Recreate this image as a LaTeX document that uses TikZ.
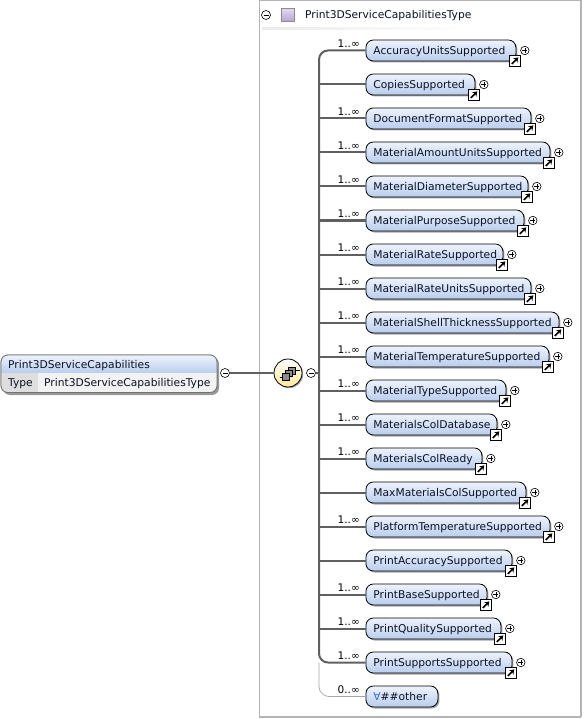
\documentclass[tikz,border=0pt]{standalone}
\usepackage{fontspec}
\setmainfont{DejaVu Sans}
\usetikzlibrary{shadows,arrows.meta,calc}
\definecolor{pilltop}{HTML}{EEF3FC}
\definecolor{pillbot}{HTML}{B9CDEE}
\definecolor{linegray}{HTML}{606060}
\definecolor{framegray}{HTML}{B4B4B4}
\definecolor{txt}{HTML}{0C1224}
\definecolor{lilactop}{HTML}{E2DAF0}
\definecolor{lilacbot}{HTML}{B4A4D8}
\definecolor{anyblue}{HTML}{3A6EC0}
\tikzset{
  x=1pt,y=-1pt,
  pill/.style={draw=black,line width=0.8pt,rounded corners=7.5pt,top color=pilltop,bottom color=pillbot,
    minimum height=21pt,text height=9pt,text depth=1pt,inner ysep=0pt,inner xsep=7.5pt,anchor=west,font=\fontsize{10.7}{12}\selectfont,text=txt,
    drop shadow={shadow xshift=1.5pt,shadow yshift=-1.5pt,fill=black,opacity=.35}},
  toggle/.style={circle,draw=black,fill=white,line width=0.6pt,minimum size=9pt,inner sep=0pt},
  conn/.style={draw=linegray,line width=2pt},
  occ/.style={font=\fontsize{10.5}{12}\selectfont,inner sep=0pt,anchor=east,text=black},
  linkbox/.style={draw=black,fill=white,line width=1pt,minimum size=10.5pt,inner sep=0pt},
}
\newcommand{\plusmark}[1]{\draw[line width=0.5pt] ($(#1)+(-2.5,0)$) -- ($(#1)+(2.5,0)$) ($(#1)+(0,-2.5)$) -- ($(#1)+(0,2.5)$);}
\newcommand{\minusmark}[1]{\draw[line width=0.5pt] ($(#1)+(-2.5,0)$) -- ($(#1)+(2.5,0)$);}
\begin{document}
\begin{tikzpicture}
\useasboundingbox (0,0) rectangle (583,719);
\fill[white] (0,0) rectangle (583,719);
% frame
\draw[framegray,line width=1.6pt] (259.5,-1) -- (259.5,717) -- (581,717) (581,717) -- (581,-1);
\draw[framegray,line width=1.2pt] (259.5,0.5) -- (581,0.5);
\shade[left color=black!8,right color=white] (262,28) rectangle (470,30);
% type header
\node[toggle] (tm) at (266,15) {}; \minusmark{tm}
\node[draw=black!45,line width=.5pt,top color=lilactop,bottom color=lilacbot,minimum size=13pt,inner sep=0pt] (ts) at (288,15) {};
\node[anchor=west,inner sep=0pt,font=\fontsize{10.7}{12}\selectfont,text=txt] (tt) at (305,15.5) {Print3DServiceCapabilitiesType};
% spine
\coordinate (sp) at (319,373);
% element box
\fill[black!40] (3,357) [rounded corners=7pt] rectangle (219,395);
\draw[black!55,fill=white,line width=.8pt,rounded corners=7pt] (1,355) rectangle (217,392.5);
\begin{scope}
\clip[rounded corners=7pt] (1,355) rectangle (217,392.5);
\shade[top color=pilltop,bottom color=pillbot] (1,355) rectangle (217,373);
\fill[black!13] (1,373) rectangle (38,393);
\fill[black!5] (38,373) rectangle (217,393);
\end{scope}
\draw[black!55,line width=.8pt,rounded corners=7pt] (1,355) rectangle (217,392.5);
\node[anchor=west,inner sep=0pt,font=\fontsize{10.7}{12}\selectfont,text=txt] (en) at (8,365.5) {Print3DServiceCapabilities};
\node[anchor=west,inner sep=0pt,font=\fontsize{10.7}{12}\selectfont,text=txt] (et) at (8,383.5) {Type};
\node[anchor=west,inner sep=0pt,font=\fontsize{10.7}{12}\selectfont,text=txt] (ev) at (44,383.5) {Print3DServiceCapabilitiesType};
\coordinate (eb) at (217,373);
\node[toggle] (em) at (225,373) {}; \minusmark{em}
% sequence
\node[circle,draw=black,line width=.8pt,inner sep=0pt,minimum size=28pt,top color=white,bottom color=yellow!55!orange!40,
  drop shadow={shadow xshift=1.2pt,shadow yshift=-1.2pt,fill=black,opacity=.35}] (seq) at (288,373) {};
\node[toggle] (sm) at (311,373) {}; \minusmark{sm}
\draw[conn] (em) -- (seq);
\draw[conn] (sm) -- (sp);
\draw[line width=.9pt] (279.5,377)--(283,377) (296,370)--(300,370);
\node[draw=black,fill=black!45,line width=.9pt,minimum size=6.5pt,inner sep=0pt] (q1) at (292,371) {};
\node[draw=black,fill=black!45,line width=.9pt,minimum size=6.5pt,inner sep=0pt] (q3) at (289,373.5) {};
\node[draw=black,fill=black!45,line width=.9pt,minimum size=7pt,inner sep=0pt] (q2) at (285.5,376.5) {};
% rows
\foreach \n/\t/\r/\o in {
 1/AccuracyUnitsSupported/515/1,
 2/CopiesSupported/474/0,
 3/DocumentFormatSupported/530/1,
 4/MaterialAmountUnitsSupported/549/1,
 5/MaterialDiameterSupported/527/1,
 6/MaterialPurposeSupported/523/1,
 7/MaterialRateSupported/502/1,
 8/MaterialRateUnitsSupported/530/1,
 9/MaterialShellThicknessSupported/558/1,
 10/MaterialTemperatureSupported/548/1,
 11/MaterialTypeSupported/505/1,
 12/MaterialsColDatabase/496/1,
 13/MaterialsColReady/481/1,
 14/MaxMaterialsColSupported/525/0,
 15/PlatformTemperatureSupported/549/1,
 16/PrintAccuracySupported/511/0,
 17/PrintBaseSupported/486/1,
 18/PrintQualitySupported/500/1,
 19/PrintSupportsSupported/511/1}{
  \pgfmathsetmacro{\yy}{16.5+34*\n}
  \pgfmathsetmacro{\ww}{\r-365-15}
  \node[pill,text width=\ww pt] (p\n) at (365.5,\yy) {\mbox{\t}};
  \node[toggle,minimum size=8.5pt] (t\n) at ($(p\n.east)+(8.5,0)$) {}; \plusmark{t\n}
  \node[linkbox] (b\n) at ($(p\n.south east)+(-1.5,-0.5)$) {};
  \draw[line width=1.6pt,-{Stealth[length=4.5pt,width=6pt]}] ($(b\n.center)+(-3,3)$) -- ($(b\n.center)+(3.5,-3.5)$);
  \ifnum\o=1 \node[occ] (o\n) at (360,\yy-6.5) {1..∞}; \fi
}
\node[pill,text width=57pt] (p20) at (365.5,696.5) {\mbox{\textcolor{anyblue}{∀}\#\#other}};
\node[occ] (o20) at (360,690) {0..∞};
% connectors
\draw[conn,rounded corners=9pt] (p19.west) -- (319,662.5) -- (319,50.5) -- (p1.west);
\foreach \n in {2,...,18}{ \draw[conn] (319,0 |- p\n.west) -- (p\n.west); }
\draw[black!35,line width=.7pt,rounded corners=10pt] (319,662.5) -- (319,696.5) -- (p20.west);
\end{tikzpicture}
\end{document}
